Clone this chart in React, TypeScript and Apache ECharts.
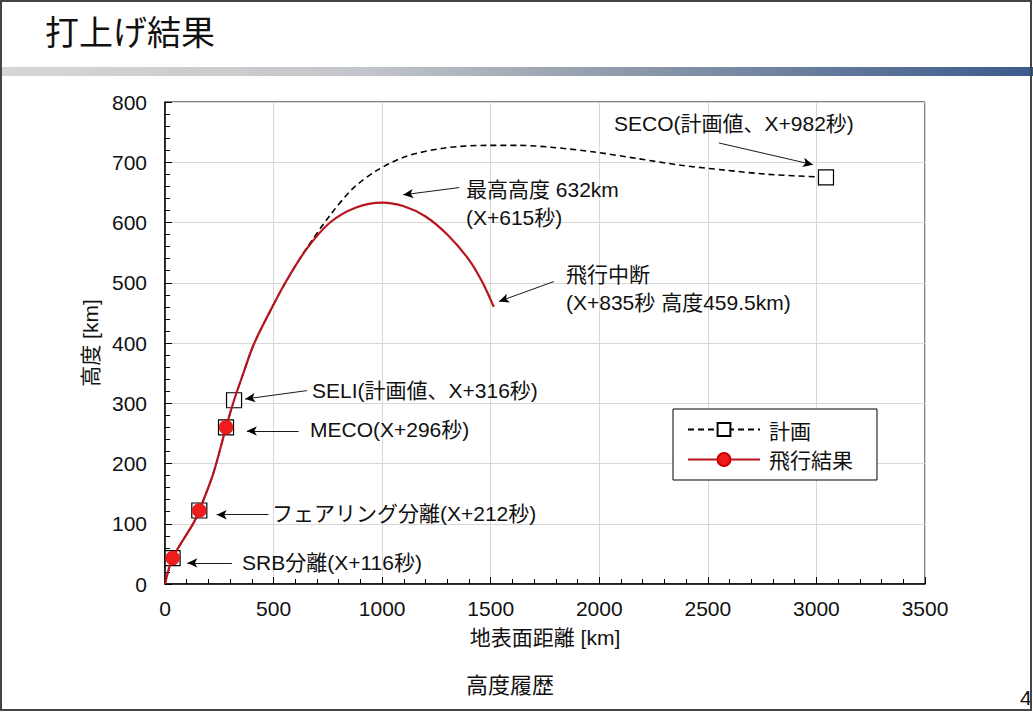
import React, { useEffect, useRef } from "react";
import * as echarts from "echarts";

// ---- data (distance km, altitude km) ----
const planCurve: number[][] = [
  [0, 0], [35, 43], [131, 101], [158, 122], [223, 184], [281, 260], [318, 305],
  [360, 349], [408, 397], [480, 450], [554, 500], [650, 556], [760, 612],
  [867, 657], [974, 686], [1112, 710], [1295, 724], [1479, 728], [1632, 728],
  [1777, 725], [1977, 717], [2177, 706], [2377, 695], [2577, 687], [2777, 680],
  [3044, 675],
];
const flightCurve: number[][] = [
  [0, 0], [35, 43], [131, 101], [158, 122], [223, 184], [281, 260], [318, 305],
  [360, 349], [408, 397], [480, 450], [554, 500], [650, 555], [760, 600],
  [880, 625], [1000, 633], [1100, 627], [1200, 610], [1300, 580], [1400, 538],
  [1463, 500], [1514, 460],
];
const planMarkers: number[][] = [[35, 43], [158, 122], [281, 260], [318, 305], [3044, 675]];
const flightMarkers: number[][] = [[35, 43], [158, 122], [281, 260]];

const seriesNames = ["計画", "飛行結果"];
const xTicks = { min: 0, max: 3500, interval: 500 };
const yTicks = { min: 0, max: 800, interval: 100 };

// annotation arrows: [from, to] in data coordinates
const arrows: number[][][] = [
  [[2551, 732], [2984, 696]],
  [[1356, 658], [1097, 646]],
  [[1791, 502], [1538, 469]],
  [[654, 321], [369, 307]],
  [[615, 254], [377, 254]],
  [[476, 115], [238, 115]],
  [[308, 35], [103, 35]],
];
const annotationTexts = [
  "SECO(計画値、X+982秒)",
  "最高高度 632km\n(X+615秒)",
  "飛行中断\n(X+835秒 高度459.5km)",
  "SELI(計画値、X+316秒)",
  "MECO(X+296秒)",
  "フェアリング分離(X+212秒)",
  "SRB分離(X+116秒)",
];
// text layout positions (pixels: left, first-line centre)
const annotationPos = [
  [614, 121], [466, 187], [566, 272], [312, 388], [310, 427], [272, 511], [242, 560],
];

const FONT = "'Liberation Sans', 'Noto Sans CJK JP', sans-serif";
const CJK = "'Noto Sans CJK JP', sans-serif";

function isIn(p: number[], list: number[][]) {
  return list.some((q) => q[0] === p[0] && q[1] === p[1]);
}

export default function App() {
  const ref = useRef<HTMLDivElement>(null);
  useEffect(() => {
    if (!ref.current) return;
    const chart = echarts.init(ref.current, undefined, { renderer: "svg" });

    const planData = planCurve.map((p) =>
      isIn(p, planMarkers)
        ? { value: p, symbol: "rect", symbolSize: 15 }
        : { value: p, symbol: "none" }
    );
    const flightData = flightCurve.map((p) =>
      isIn(p, flightMarkers)
        ? { value: p, symbol: "circle", symbolSize: 14 }
        : { value: p, symbol: "none" }
    );

    const texts = annotationTexts.map((t, i) => ({
      type: "text",
      x: annotationPos[i][0],
      y: annotationPos[i][1] - 12,
      z: 100,
      style: {
        text: t,
        fontSize: 21,
        fontFamily: FONT,
        fill: "#111",
        lineHeight: 28,
        align: "left",
        verticalAlign: "top",
      },
    }));

    const axisCommon = {
      type: "value",
      nameLocation: "middle",
      nameTextStyle: { fontSize: 21, fontFamily: FONT, color: "#111" },
      axisLine: { show: true, lineStyle: { color: "#000", width: 1.5 } },
      axisTick: { show: true, inside: true, length: 7, lineStyle: { color: "#000", width: 1 } },
      minorTick: { show: true, splitNumber: 5, length: 5, lineStyle: { color: "#000", width: 1 } },
      splitLine: { show: true, lineStyle: { color: "#d8d8d8", width: 1 } },
    };

    chart.setOption({
      animation: false,
      backgroundColor: "#fff",
      grid: {
        left: 165,
        top: 102,
        width: 760,
        height: 482,
        show: true,
        borderColor: "#000",
        borderWidth: 1,
        backgroundColor: "transparent",
      },
      legend: {
        data: seriesNames,
        orient: "vertical",
        left: 673,
        top: 409,
        padding: [10, 24, 10, 14],
        itemWidth: 72,
        itemHeight: 16,
        itemGap: 9,
        borderColor: "#000",
        borderWidth: 1,
        backgroundColor: "#fff",
        textStyle: { fontSize: 21, fontFamily: CJK, color: "#111", padding: [0, 0, 0, 4] },
      },
      xAxis: {
        ...axisCommon,
        min: xTicks.min,
        max: xTicks.max,
        interval: xTicks.interval,
        name: "地表面距離 [km]",
        nameGap: 43,
        axisLabel: {
          fontSize: 21,
          fontFamily: FONT,
          color: "#111",
          margin: 14,
          formatter: (v: number) => String(v),
        },
      },
      yAxis: {
        ...axisCommon,
        min: yTicks.min,
        max: yTicks.max,
        interval: yTicks.interval,
        name: "高度 [km]",
        nameGap: 61,
        nameRotate: 90,
        axisLabel: {
          fontSize: 21,
          fontFamily: FONT,
          color: "#111",
          margin: 18,
          formatter: (v: number) => String(v),
        },
      },
      series: [
        {
          name: seriesNames[0],
          type: "line",
          smooth: 0.3,
          symbol: "rect",
          symbolSize: 15,
          data: planData,
          lineStyle: { color: "#000", width: 1.6, type: [6, 4] },
          itemStyle: { color: "#fff", borderColor: "#000", borderWidth: 1.2 },
          z: 2,
          markLine: {
            silent: true,
            symbol: ["none", "arrow"],
            symbolSize: [7, 10],
            label: { show: false },
            lineStyle: { color: "#000", width: 0.9, type: "solid" },
            data: arrows.map((a) => [{ coord: a[0] }, { coord: a[1] }]),
          },
        },
        {
          name: seriesNames[1],
          type: "line",
          smooth: 0.3,
          symbol: "circle",
          symbolSize: 14,
          data: flightData,
          lineStyle: { color: "#b8141e", width: 2.2 },
          itemStyle: { color: "#ee1c1c", borderColor: "#c00", borderWidth: 0.5 },
          z: 3,
        },
      ],
      graphic: [
        {
          type: "text",
          x: 45,
          y: 13,
          style: { text: "打上げ結果", fontSize: 34, fontFamily: CJK, fill: "#111" },
        },
        {
          type: "rect",
          shape: { x: 0, y: 67, width: 1033, height: 9 },
          style: {
            fill: new echarts.graphic.LinearGradient(0, 0, 1, 0, [
              { offset: 0, color: "#d6d6d6" },
              { offset: 0.35, color: "#c3c6ca" },
              { offset: 0.6, color: "#8f9bab" },
              { offset: 1, color: "#3b5a8c" },
            ]),
          },
        },
        {
          type: "text",
          x: 510,
          y: 683,
          style: {
            text: "高度履歴",
            fontSize: 22,
            fontFamily: CJK,
            fill: "#111",
            align: "center",
            verticalAlign: "middle",
          },
        },
        {
          type: "text",
          x: 1020,
          y: 697,
          style: { text: "4", fontSize: 21, fontFamily: FONT, fill: "#111", verticalAlign: "middle" },
        },
        {
          type: "rect",
          shape: { x: 1, y: 1, width: 1030, height: 709 },
          style: { fill: "none", stroke: "#444", lineWidth: 2 },
          silent: true,
        },
        ...texts,
      ],
    });
    return () => chart.dispose();
  }, []);
  return (
    <div
      ref={ref}
      style={{ position: "absolute", left: 0, top: 0, width: 1033, height: 712 }}
    />
  );
}
